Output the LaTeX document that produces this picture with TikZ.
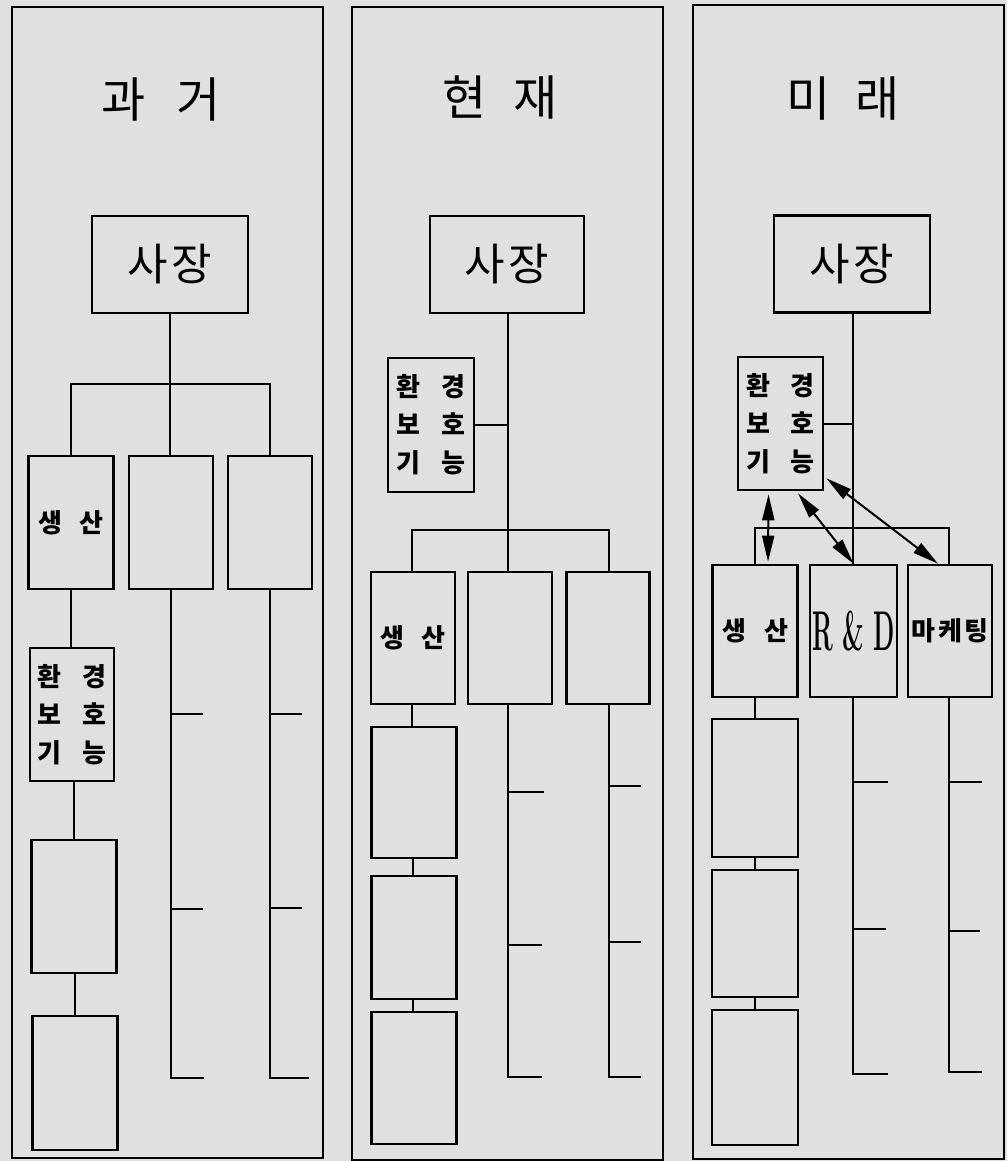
\documentclass[tikz,border=0pt]{standalone}
\usepackage{fontspec}
\newfontfamily\kr{Noto Sans CJK KR}
\usetikzlibrary{arrows.meta,calc}
\definecolor{bgc}{gray}{0.88}
\begin{document}
\begin{tikzpicture}[x=1pt,y=-1pt,
  panel/.style={draw, line width=2.2pt},
  box/.style={draw, line width=2.6pt, inner sep=0pt, font=\kr},
  link/.style={line width=2pt},
  tip/.tip={Triangle[length=26pt,width=12pt]},
  dbl/.style={line width=2pt, tip-tip},
  ttl/.style={inner sep=0pt, font=\kr\fontsize{48}{48}\selectfont},
  ceo/.style={box, minimum width=156pt, minimum height=97pt, font=\kr\fontsize{44}{44}\selectfont},
  dept/.style={box, minimum width=85pt, minimum height=133pt, font=\kr\bfseries\fontsize{26}{26}\selectfont},
  envbox/.style={box, minimum width=85pt, minimum height=133pt, align=center, font=\kr\bfseries\fontsize{26}{38}\selectfont},
]
\useasboundingbox (0,0) rectangle (1007,1161);
\fill[bgc] (0,0) rectangle (1007,1161);

% ---------------- Panel 1 ----------------
\draw[panel] (12,7) rectangle (323,1158);
\node[ttl] (t1) at (161,100) {과\hspace{30pt}거};
\node[ceo] (ceo1) at (170,264.5) {사\hspace{4pt}장};
\coordinate (bus1) at (170,384);
\node[dept] (p1a) at (71,522.5) {생\hspace{18pt}산};
\node[dept, minimum width=84pt] (p1b) at (171,522.5) {};
\node[dept, minimum width=84pt] (p1c) at (270,522.5) {};
\node[envbox, minimum width=84pt] (p1env) at (72,714.5) {환\hspace{21pt}경\\보\hspace{21pt}호\\기\hspace{21pt}능};
\node[dept] (p1d) at (74,906.5) {};
\node[dept, minimum height=134pt] (p1e) at (75,1083) {};
\draw[link] (ceo1.south) -- (bus1);
\draw[link] (p1a.north) |- (bus1) -| (p1c.north);
\draw[link] (bus1) -- (bus1 |- p1b.north);
\draw[link] (p1a.south) -- (p1a.south |- p1env.north);
\draw[link] (p1d.north) -- (p1d.north |- p1env.south);
\draw[link] (p1e.north) -- (p1e.north |- p1d.south);
\draw[link] (p1b.south) -- (p1b.south |- 0,1078) -- ++(33,0);
\draw[link] (p1b.south |- 0,714) -- ++(32,0);
\draw[link] (p1b.south |- 0,909) -- ++(32,0);
\draw[link] (p1c.south) -- (p1c.south |- 0,1078) -- ++(39,0);
\draw[link] (p1c.south |- 0,714) -- ++(32,0);
\draw[link] (p1c.south |- 0,908) -- ++(32,0);

% ---------------- Panel 2 ----------------
\draw[panel] (352,7) rectangle (663,1160);
\node[ttl] (t2) at (500,98) {현\hspace{27pt}재};
\node[ceo, minimum width=154pt] (ceo2) at (507,264.5) {사\hspace{4pt}장};
\node[envbox, minimum width=86pt, minimum height=134pt] (p2env) at (431,425) {환\hspace{21pt}경\\보\hspace{21pt}호\\기\hspace{21pt}능};
\coordinate (bus2) at (508,530);
\node[dept, minimum width=84pt, minimum height=132pt] (p2a) at (413,638) {생\hspace{18pt}산};
\node[dept, minimum width=84pt, minimum height=132pt] (p2b) at (510,638) {};
\node[dept, minimum width=83pt, minimum height=132pt] (p2c) at (608,638) {};
\node[dept, minimum height=131pt] (p2d) at (414,792.5) {};
\node[dept, minimum height=123pt] (p2e) at (414,937.5) {};
\node[dept, minimum height=132pt] (p2f) at (414,1078) {};
\draw[link] (ceo2.south -| bus2) -- (bus2);
\draw[link] (p2env.east) -- (p2env.east -| bus2);
\draw[link] (p2a.north -| 412,0) |- (bus2) -| (609,572);
\draw[link] (bus2) -- (bus2 |- p2b.north);
\draw[link] (p2d.north -| 412,0) -- (412,704);
\draw[link] (p2e.north -| 413,0) -- (p2d.south -| 413,0);
\draw[link] (p2f.north -| 413,0) -- (p2e.south -| 413,0);
\draw[link] (p2b.south -| bus2) -- (508,1077) -- ++(34,0);
\draw[link] (508,792) -- ++(36,0);
\draw[link] (508,945) -- ++(34,0);
\draw[link] (p2c.south -| 609,0) -- (609,1077) -- ++(32,0);
\draw[link] (609,786) -- ++(32,0);
\draw[link] (609,942) -- ++(32,0);

% ---------------- Panel 3 ----------------
\draw[panel] (693,5) rectangle (1004,1159);
\node[ttl] (t3) at (843,99) {미\hspace{25pt}래};
\node[ceo] (ceo3) at (852,264) {사\hspace{4pt}장};
\node[envbox] (p3env) at (780.5,423.5) {환\hspace{21pt}경\\보\hspace{21pt}호\\기\hspace{21pt}능};
\coordinate (bus3) at (853,528);
\node[dept, minimum height=132pt] (p3a) at (755,631) {생\hspace{18pt}산};
\node[dept, minimum width=87pt, minimum height=132pt] (p3b) at (853.5,631)
  {\scalebox{0.44}[1]{\fontsize{56}{56}\selectfont\rmfamily\bfseries R \& D}};
\node[dept, minimum width=84pt, minimum height=132pt] (p3c) at (950,631) {마\hspace{3pt}케\hspace{3pt}팅};
\node[dept, minimum width=86pt, minimum height=138pt] (p3d) at (755,788) {};
\node[dept, minimum width=86pt, minimum height=127pt] (p3e) at (755,933.5) {};
\node[dept, minimum width=86pt, minimum height=135pt] (p3f) at (755,1077.5) {};
\draw[link] (ceo3.south -| bus3) -- (bus3);
\draw[link] (p3env.east) -- (p3env.east -| bus3);
\draw[link] (p3a.north) |- (bus3) -| (949,565);
\draw[link] (bus3) -- (bus3 |- p3b.north);
\draw[link] (p3a.south) -- (p3a.south |- p3d.north);
\draw[link] (p3d.south) -- (p3d.south |- p3e.north);
\draw[link] (p3e.south) -- (p3e.south |- p3f.north);
\draw[link] (p3b.south -| bus3) -- (853,1074) -- ++(35,0);
\draw[link] (853,782) -- ++(35,0);
\draw[link] (853,929) -- ++(33,0);
\draw[link] (p3c.south -| 949,0) -- (949,1072) -- ++(33,0);
\draw[link] (949,782) -- ++(33,0);
\draw[link] (949,931) -- ++(31,0);
\draw[dbl] ($(p3env.south)+(-12,3)$) -- ($(p3a.north)+(13,-2)$);
\draw[dbl] ($(p3env.south)+(17.5,2)$) -- (p3b.north);
\draw[dbl] ($(p3env.south east)+(2,-13)$) -- ($(p3c.north)+(-12,0)$);
\end{tikzpicture}
\end{document}
